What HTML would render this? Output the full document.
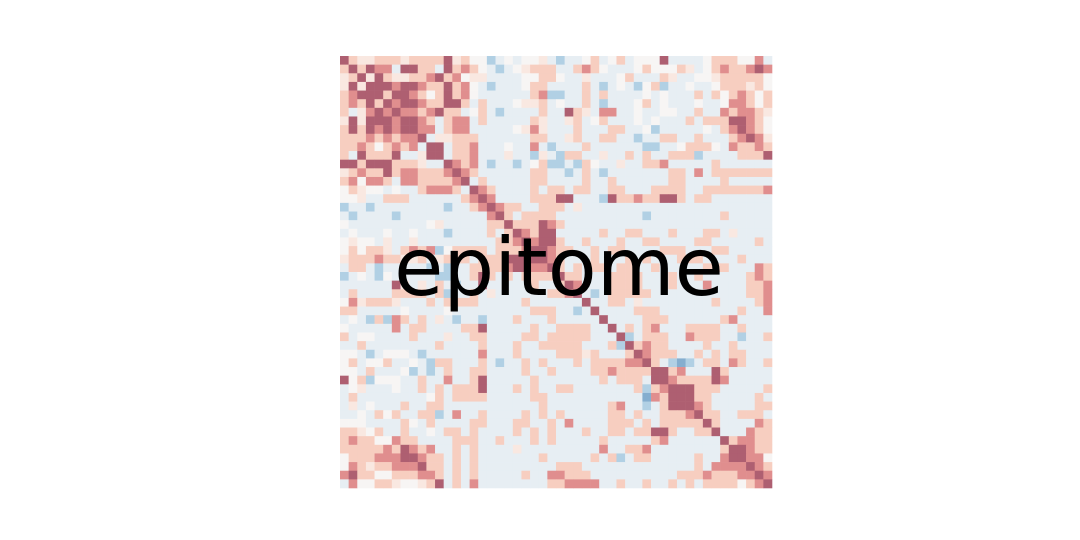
<!DOCTYPE html>
<html><head><meta charset="utf-8">
<style>
html,body{margin:0;padding:0;background:#fff;width:1080px;height:540px;overflow:hidden;}
svg{display:block;}
</style></head>
<body>
<svg id="chart" width="1080" height="540" viewBox="0 0 1080 540">
<g id="cells"></g>
<text x="559" y="295" text-anchor="middle" font-family="DejaVu Sans, Liberation Sans, sans-serif" font-size="80" fill="#000">epitome</text>
</svg>
<script>
const levelKeys = ['X','B','b','0','p','r','R','D'];
const levelValues = [-0.5,-0.3,-0.07,0,0.08,0.2,0.5,0.85];
const upperRows = [
"DrpprrrprrrrDpr00Bb0b00pbBbb0rb0rb000Dbbbb0rrr00Rb",
"rDrDRRbDDrrbDrRr0bBb0prrrbbrRr0bbb0r000rpb0rRrrRDR",
"prDpDrpprrRDrR0ppbbbb00rr0bbpbbb0rbbbrpbb00prrrrr0",
"rDpDDDRDDRrrDrR0bBbbb0rrbbbbrbBb0bB0rBbb0bb0rrrpr0",
"pRrDDrDDRr0rDrR0bbbbbbrRBBbbrbrbbbb0b0bbbrbr0rRr0r",
"rRpDrDRDDRrrDDrbrbbb0pprb0bbrbBbbb0rb0bbb0bb0RRr0r",
"pbpprDDRRrRDrrb0rbBbbbbrbbDrpbRRbb0bb00bbrbbRrRRrp",
"rDpDRrDDDRrbrRRbrbbbbbrpbbprb0rbbb0b0bbbrbrrrDDRr0",
"pDrDDRDDRRRbrRRbbbbb0pRpbbbrbbbrrbb0Bbbbbb0brRDRr0",
"rrbRprDRDbbpprrrbbbbbbrrbbprbbrrbbBbbrrbbrbbbrRDRp",
"rRrRrrRrRrDDbrrRbbb0bbRbBbbbrbbbbbbBBbb0rrr0bRrrRr",
"ppppbRpRrrDDbrrRbbbpbbBpbBrrbbpbbrbrbbrrrBbbbbrrrD",
"DbrrrbbprrbbDRrRbBbbBb0rBBbBr0bbpbbrrRbbbbbrbbbbbb",
"rDRDDbrRrrrRRDRrbbbbbbrrbbBbrbBbbbbbbbrrbRbrrrrrrr",
"rrRrDrRrRrRrrRDbrbbbbbrrbbbbrbbrbbbbbbrrbbbbrbbbbb",
"prrrrrRrRDrbbbrDRrbbbbrbrrbrrbbrrbbbrrrrbbrrrrrrrR",
"pbbbbbbbbbbbbbbbDRbbbbrrrDDbbbBDrrRrrDDrbrrbbbbbbb",
"BbbbbbbbbbbbbbbbbDRrrbbrrrbpbbbbbbbbbbbbbbbbbbbbbb",
"bbbbbbbbbbbbbbbbrRDrbrrrrbbbbbbbbbbBbbbbbbbbrbbbbb",
"pbbbbbbbbbbbbbbbbbrDrrrDRrbbbbbbbbbbbbbbbbbbbbbbbb",
"DRrDDbbbbbrbbrrbbbrbbbrrbpbbbb",
"DRDDrbbrbbbrbbrrbbbbrrbbbbbrb",
"DDRrrbbrbrrbbbbrrrbbbrrbbbbb",
"DRrbbbrbbbrbrbbbrrrbbbbrbbbb",
"DrbrbrrbrrbbrbbbbbrrrbbbRrr",
"DrrbbbrrrrbbbrbbrbbbbbrRrR",
"DRbbbrrrrbbbrbbbRbbbbrrRr",
"DbBbrrrrrbbbbbbbbbbbrrRr",
"DbbrrbpbbbbbbbbrbbbbrRr",
"DbbbbrrrbbbbbbbbbrbbRr",
"DbbbbrrrbbbbbbrRbbbbb",
"DbrbrRbbbrrrrbbrbbbb",
"DBbrrrbbRrrrbbBbbrb",
"DrRrrbbbbrbbrbbbbb",
"DRrrrbbrbrbrrbbbr",
"DrbBXBbrrbRrbbrr",
"DDrRbbbDrbbbbbr",
"DRrrrrDRbbbbbb",
"DDDrrrbbbbbrr",
"DDrrbbbbbrbb",
"DRrbbbbbrrr",
"Drrbbrrrbr",
"DrbbbbRrr",
"DbbbRrrr",
"DrRRrrr",
"DDRrr",
"DRR",
"DRr",
"DR",
"D"
];
const N = 50;
const X0 = 340, Y0 = 56, SIZE = 432;
function xScale(j){ return X0 + j*SIZE/N; }
function yScale(i){ return Y0 + i*SIZE/N; }
function charAt(i,j){
  const s = upperRows[i];
  const k = s.length===N ? j : j-i;
  const c = s[k];
  return c===undefined ? '0' : c;
}
function value(i,j){
  if(i===j) return 0.85;
  const a=Math.min(i,j), b=Math.max(i,j);
  const idx = levelKeys.indexOf(charAt(a,b));
  return idx<0?0:levelValues[idx];
}
const stops=[[-0.6,[111,156,196]],[-0.35,[165,200,224]],[-0.15,[212,230,241]],[0,[247,245,244]],[0.12,[250,226,216]],[0.28,[244,186,168]],[0.6,[215,122,130]],[0.9,[166,90,109]]];
function color(v){
  if(v<=stops[0][0]) return 'rgb('+stops[0][1].join(',')+')';
  for(let k=1;k<stops.length;k++){
    if(v<=stops[k][0]){
      const a=stops[k-1],b=stops[k],t=(v-a[0])/(b[0]-a[0]);
      return 'rgb('+a[1].map((c,q)=>Math.round(c+(b[1][q]-c)*t)).join(',')+')';
    }
  }
  return 'rgb('+stops[stops.length-1][1].join(',')+')';
}
const g=document.getElementById('cells');
const ns='http://www.w3.org/2000/svg';
for(let i=0;i<N;i++){
  for(let j=0;j<N;j++){
    const r=document.createElementNS(ns,'rect');
    r.setAttribute('x',xScale(j));
    r.setAttribute('y',yScale(i));
    r.setAttribute('width',SIZE/N+0.3);
    r.setAttribute('height',SIZE/N+0.3);
    r.setAttribute('fill',color(value(i,j)));
    
    
    g.appendChild(r);
  }
}
</script>
</body></html>
